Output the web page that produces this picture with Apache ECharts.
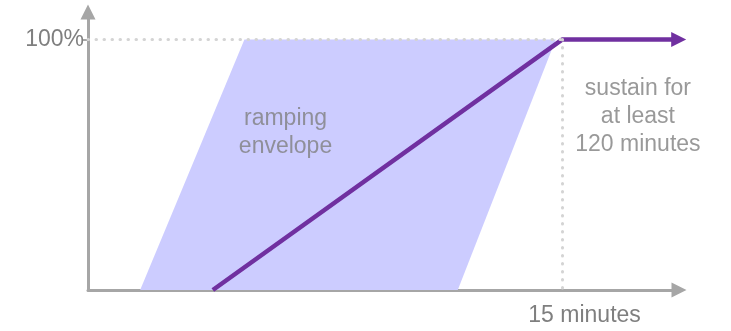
<!DOCTYPE html>
<html>
<head>
<meta charset="utf-8">
<script src="https://cdn.jsdelivr.net/npm/echarts@6/dist/echarts.min.js"></script>
<style>
  html, body { margin: 0; padding: 0; background: #fff; }
  #chart { width: 731px; height: 331px; }
</style>
</head>
<body>
<div id="chart"></div>
<script>
// minutes on x, percent of target load on y
var envelope = [[1.65, 0], [11.7, 0], [14.8, 100], [4.95, 100]];
var ramp = [[3.95, 0], [15, 100], [18.69, 100]];
var guides = [[0, 100], [15, 100], [15, 0]];
var notes = [
  { name: 'ramping\nenvelope', value: [6.25, 62.7] },
  { name: 'sustain for\nat least\n120 minutes', value: [17.4, 69.2] }
];
var xTickLabels = { 15: '15 minutes' };
var yTickLabels = { 100: '100%' };

var grey = '#a6a6a6';
var textGrey = '#7f7f7f';
var font = 'Liberation Sans, Arial, sans-serif';

var chart = echarts.init(document.getElementById('chart'));

var rampData = ramp.map(function (p, i) {
  if (i === ramp.length - 1) {
    return { value: p, symbol: 'triangle', symbolRotate: -90, symbolSize: [15, 15] };
  }
  return { value: p, symbol: 'none' };
});

var option = {
  animation: false,
  grid: { left: 88, right: 52, top: 12, bottom: 41 },
  xAxis: {
    type: 'value',
    min: 0,
    max: 18.7,
    interval: 15,
    splitLine: { show: false },
    axisTick: { show: false },
    axisLine: {
      show: true,
      symbol: ['none', 'triangle'],
      symbolSize: [15, 15],
      lineStyle: { color: grey, width: 3 }
    },
    axisLabel: {
      color: textGrey,
      fontFamily: font,
      fontSize: 23,
      margin: 14,
      padding: [0, 0, 0, 45],
      formatter: function (v) { return xTickLabels[v] || ''; }
    }
  },
  yAxis: {
    type: 'value',
    min: 0,
    max: 111,
    interval: 100,
    splitLine: { show: false },
    axisTick: {
      show: true,
      length: 6,
      customValues: [100],
      lineStyle: { color: grey, width: 2 }
    },
    axisLine: {
      show: true,
      symbol: ['none', 'triangle'],
      symbolSize: [15, 15],
      lineStyle: { color: grey, width: 3 }
    },
    axisLabel: {
      color: textGrey,
      fontFamily: font,
      fontSize: 23,
      margin: 4,
      formatter: function (v) { return yTickLabels[v] || ''; }
    }
  },
  series: [
    {
      type: 'custom',
      name: 'envelope',
      z: 1,
      silent: true,
      data: [0],
      renderItem: function (params, api) {
        return {
          type: 'polygon',
          shape: { points: envelope.map(function (p) { return api.coord(p); }) },
          style: { fill: '#ccccff' }
        };
      }
    },
    {
      type: 'line',
      name: 'guides',
      z: 2,
      data: [],
      markLine: {
        silent: true,
        symbol: ['none', 'none'],
        label: { show: false },
        lineStyle: { color: '#d4d4d4', width: 3, type: [0.5, 7.5], cap: 'round' },
        data: [
          [{ coord: guides[0] }, { coord: guides[1] }],
          [{ coord: guides[1] }, { coord: guides[2] }]
        ]
      }
    },
    {
      type: 'line',
      name: 'ramp',
      z: 3,
      silent: true,
      clip: false,
      showSymbol: true,
      data: rampData,
      lineStyle: { color: '#7030a0', width: 4.5 },
      itemStyle: { color: '#7030a0' }
    },
    {
      type: 'scatter',
      name: 'notes',
      z: 4,
      silent: true,
      symbolSize: 0,
      data: notes,
      label: {
        show: true,
        position: 'inside',
        color: textGrey,
        fontFamily: font,
        fontSize: 23,
        lineHeight: 28,
        align: 'center',
        formatter: function (p) { return p.name; }
      }
    }
  ]
};

chart.setOption(option);
</script>
</body>
</html>
